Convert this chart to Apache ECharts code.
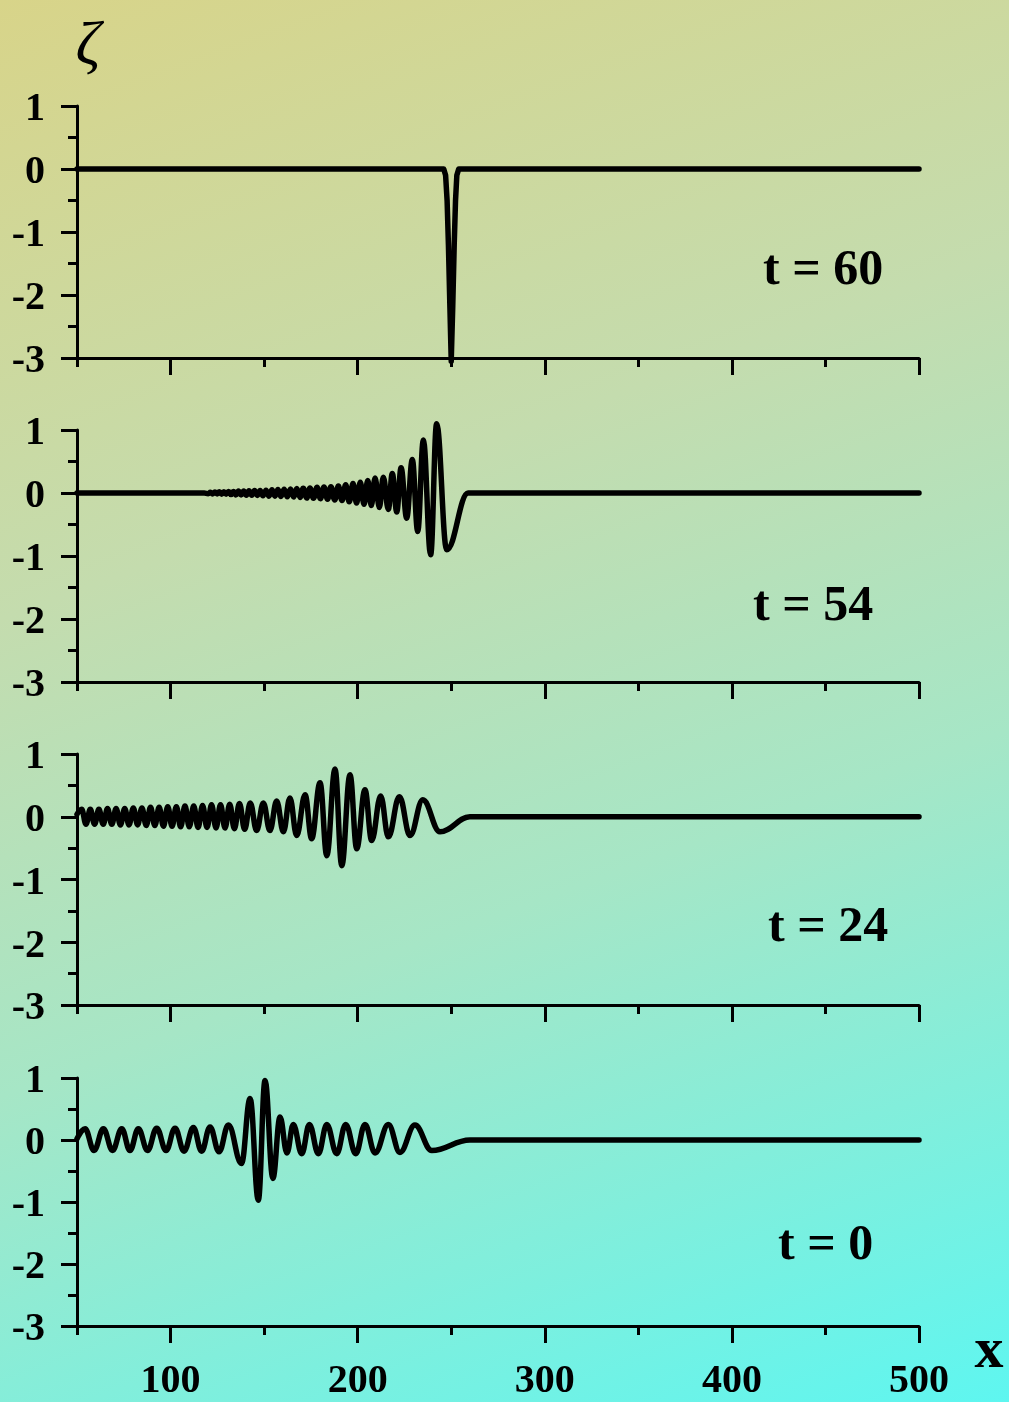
<!DOCTYPE html>
<html><head><meta charset="utf-8">
<script src="https://cdn.jsdelivr.net/npm/echarts@6/dist/echarts.min.js"></script>
<style>
html,body{margin:0;padding:0;}
body{width:1009px;height:1402px;background:linear-gradient(160deg,#d8d489 0%,#c4dcae 35%,#a6e6c6 62%,#5ef6f0 100%);}
#chart{width:1009px;height:1402px;}
</style></head><body><div id="chart"></div>
<script>
const xMin = 50, xMax = 500;
const yMin = -3, yMax = 1;
const xMajorTicks = [100, 200, 300, 400, 500];
const xMinorTicks = [50, 150, 250, 350, 450];
const panelLabels = ['t = 60', 't = 54', 't = 24', 't = 0'];

const zetaT60 = [[50,0],[246.0,0],[247.0,-0.1],[247.8,-0.5],[248.5,-1.2],[249.3,-2.2],[250.0,-3.05],[250.8,-2.2],[251.6,-1.2],[252.3,-0.5],[253.0,-0.1],[254.0,0],[500,0]];

const zetaT54 = [[50,0],[118,0],
[120.1,-0.01],[121.3,0.01],[122.5,-0.015],[123.7,0.015],[124.9,-0.015],[126.1,0.02],[127.3,-0.02],[128.5,0.02],[129.7,-0.02],[131.0,0.025],[132.3,-0.025],[133.6,0.025],[134.9,-0.03],[136.3,0.03],[137.7,-0.03],[139.1,0.03],[140.5,-0.035],[141.9,0.035],[143.4,-0.035],[144.9,0.04],[146.4,-0.04],[147.9,0.04],[149.4,-0.045],[151.0,0.045],[152.6,-0.05],[154.2,0.05],[155.8,-0.05],[157.4,0.055],[159.0,-0.055],[160.7,0.06],[162.4,-0.06],[164.1,0.065],[165.8,-0.065],[167.5,0.07],[169.2,-0.07],[170.9,0.075],[172.8,-0.08],[174.5,0.08],[176.4,-0.085],[178.3,0.09],[180.1,-0.09],[182.0,0.095],[183.9,-0.1],[185.7,0.1],[187.7,-0.11],[189.7,0.11],[191.6,-0.12],[193.6,0.13],[195.5,-0.14],[197.5,0.15],[199.4,-0.16],[201.4,0.17],[203.4,-0.18],[205.4,0.2],[207.3,-0.2],[209.3,0.24],[211.6,-0.23],[213.7,0.25],[216.4,-0.26],[218.5,0.31],[220.9,-0.30],[223.2,0.40],[226.2,-0.40],[229.2,0.53],[232.1,-0.61],[235.1,0.84],[239.0,-0.98],[242.2,1.10],[247.6,-0.90],[259,0],[500,0]];

const zetaT24 = [[50,0.04],[52.5,0.12],[54.8,-0.12],[57.1,0.12],[59.4,-0.12],[61.7,0.12],[64.0,-0.12],[66.3,0.13],[68.6,-0.12],[70.9,0.13],[73.2,-0.13],[75.5,0.13],[77.8,-0.13],[80.1,0.14],[82.4,-0.13],[84.7,0.14],[87.0,-0.14],[89.3,0.15],[91.6,-0.14],[93.9,0.15],[96.2,-0.15],[98.5,0.16],[100.8,-0.15],[103.1,0.16],[105.4,-0.16],[107.7,0.17],[110.0,-0.16],[112.4,0.17],[114.7,-0.17],[117.1,0.18],[119.5,-0.17],[121.9,0.19],[124.3,-0.18],[126.7,0.19],[129.1,-0.18],[131.6,0.2],[134.1,-0.19],[136.8,0.21],[139.6,-0.2],[142.6,0.22],[146.0,-0.22],[149.6,0.22],[153.1,-0.22],[156.7,0.25],[160.3,-0.24],[163.8,0.30],[167.4,-0.30],[171.9,0.35],[175.4,-0.35],[179.9,0.54],[183.5,-0.62],[187.9,0.76],[191.5,-0.78],[195.9,0.67],[199.5,-0.51],[203.9,0.43],[207.5,-0.38],[212.3,0.33],[216.4,-0.32],[222.3,0.32],[228.0,-0.30],[234.8,0.27],[244.0,-0.24],[260,0],[500,0]];

const zetaT0 = [[50,0.02],[54.3,0.18],[59.1,-0.17],[64.1,0.18],[69.0,-0.17],[73.9,0.18],[78.3,-0.17],[82.8,0.18],[87.7,-0.17],[92.6,0.19],[97.6,-0.17],[102.4,0.19],[107.2,-0.18],[112.2,0.2],[116.6,-0.18],[121.1,0.21],[125.9,-0.19],[130.9,0.24],[137.9,-0.38],[142.5,0.67],[146.9,-0.97],[150.5,0.96],[154.7,-0.62],[158.5,0.37],[162.2,-0.21],[165.6,0.25],[170.1,-0.22],[174.2,0.25],[179.0,-0.22],[183.5,0.25],[188.8,-0.22],[193.6,0.25],[199.0,-0.22],[203.9,0.25],[209.3,-0.21],[216.4,0.25],[222.6,-0.2],[230.6,0.24],[239.6,-0.17],[260,0],[500,0]];

const panels = [zetaT60, zetaT54, zetaT24, zetaT0];

const gridTops = [106, 430, 754, 1078];
const gridHeights = [252, 252, 251, 248];
const labelPos = [[763, 271], [753, 607], [768, 928], [778, 1246]];
const FONT = "'Liberation Serif','Times New Roman',serif";

const grid = [], xAxis = [], yAxis = [], series = [];
panels.forEach((data, i) => {
  grid.push({left: 77, width: 842, top: gridTops[i], height: gridHeights[i]});
  xAxis.push({type: 'value', gridIndex: i, position: 'bottom', min: xMin, max: xMax,
    axisLine: {show: true, onZero: false, lineStyle: {color: '#000', width: 3}},
    axisTick: {show: true, customValues: xMajorTicks, length: 17, lineStyle: {color: '#000', width: 3}},
    axisLabel: {show: i === 3, customValues: xMajorTicks, margin: 36, color: '#000', fontSize: 40, fontWeight: 'bold', fontFamily: FONT},
    splitLine: {show: false}});
  xAxis.push({type: 'value', gridIndex: i, position: 'bottom', min: xMin, max: xMax,
    axisLine: {show: false, onZero: false},
    axisTick: {show: true, customValues: xMinorTicks, length: 9, lineStyle: {color: '#000', width: 3}},
    axisLabel: {show: false}, splitLine: {show: false}});
  yAxis.push({type: 'value', gridIndex: i, min: yMin, max: yMax, interval: 1,
    axisLine: {show: true, onZero: false, lineStyle: {color: '#000', width: 3}},
    axisTick: {show: true, length: 16, lineStyle: {color: '#000', width: 3}},
    minorTick: {show: true, splitNumber: 2, length: 9, lineStyle: {color: '#000', width: 3}},
    axisLabel: {margin: 32, formatter: '{v|{value}}',
      rich: {v: {color: '#000', fontSize: 40, fontWeight: 'bold', fontFamily: FONT, padding: [8, 0, 0, 0]}}},
    splitLine: {show: false}, minorSplitLine: {show: false}});
  const s = {type: 'line', xAxisIndex: 2 * i, yAxisIndex: i, data: data, showSymbol: false, symbol: 'none',
    clip: false, silent: true,
    lineStyle: {color: '#000', width: 5.5, join: 'round', cap: 'round'}};
  if (i === 0) { s.smooth = false; } else { s.smooth = 0.4; s.smoothMonotone = 'x'; }
  series.push(s);
});

const graphic = [];
labelPos.forEach((p, i) => graphic.push({type: 'text', x: p[0], y: p[1],
  style: {text: panelLabels[i], font: 'bold 50px ' + FONT, fill: '#000', textAlign: 'left', textVerticalAlign: 'middle', align: 'left', verticalAlign: 'middle'}}));
graphic.push({type: 'text', x: 88, y: 48, style: {text: 'ζ', font: 'italic 62px ' + FONT, fill: '#000', textAlign: 'center', textVerticalAlign: 'middle', align: 'center', verticalAlign: 'middle'}});
graphic.push({type: 'text', x: 989, y: 1352, style: {text: 'x', font: 'bold 58px ' + FONT, fill: '#000', textAlign: 'center', textVerticalAlign: 'middle', align: 'center', verticalAlign: 'middle'}});

const chart = echarts.init(document.getElementById('chart'), null, {renderer: 'canvas'});
chart.setOption({animation: false, backgroundColor: 'transparent', grid, xAxis, yAxis, series, graphic});
</script></body></html>
